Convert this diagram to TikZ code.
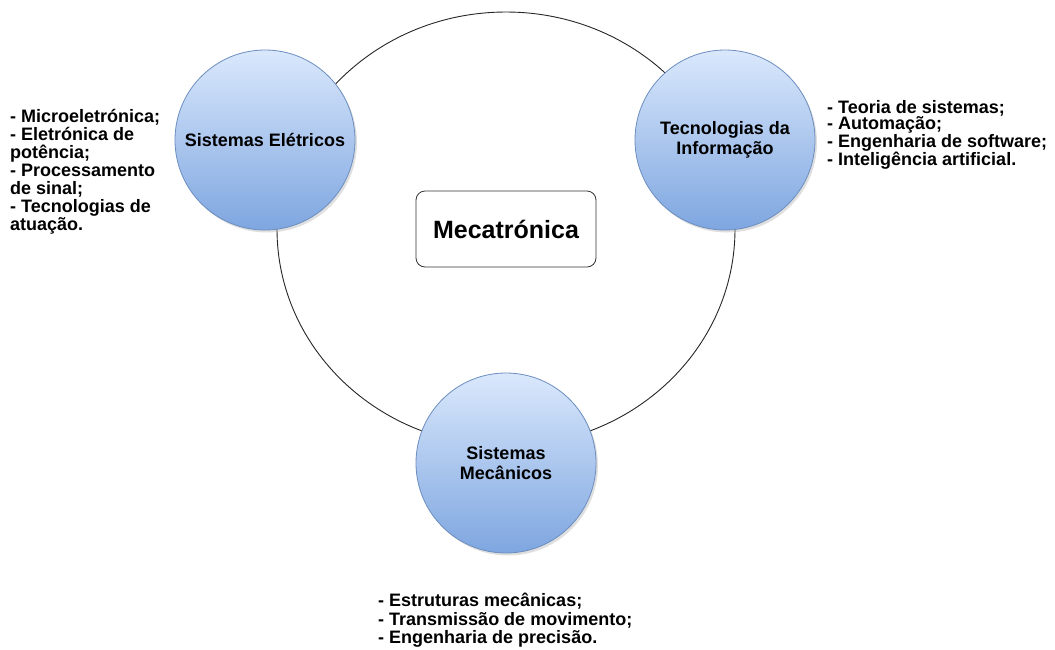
\documentclass[tikz,border=0pt]{standalone}
\usepackage{fontspec}
\setmainfont{Liberation Sans}
\usetikzlibrary{shapes.geometric,shadows}
\definecolor{blueTop}{HTML}{DAE8FC}
\definecolor{blueBottom}{HTML}{7EA6E0}
\definecolor{blueEdge}{HTML}{6C8EBF}
\begin{document}
\begin{tikzpicture}[x=1pt,y=-1pt,
  areacircle/.style={circle, minimum size=180pt, inner sep=0pt, draw=blueEdge,
    line width=0.8pt, top color=blueTop, bottom color=blueBottom,
    drop shadow={shadow xshift=2pt, shadow yshift=-2.5pt, opacity=0.25},
    align=center, font=\bfseries\fontsize{18}{20}\selectfont},
  topics/.style={align=left, inner sep=0pt, anchor=base west},
  ringline/.style={ellipse, draw=black!85, line width=0.9pt, inner sep=0pt},
  titlebox/.style={draw=black!80, line width=0.8pt, rounded corners=9pt,
    minimum width=180pt, minimum height=76pt,
    font=\bfseries\fontsize{25}{30}\selectfont}]
  \useasboundingbox (0,0) rectangle (1055,649);

  % the ring that links the three areas
  \node[ringline, minimum width=458pt, minimum height=434pt] (ring) at (506,229) {};

  % central title
  \node[titlebox] (core) at (506,229) {Mecatrónica};

  % the three areas
  \node[areacircle] (ele) at (265,140) {Sistemas Elétricos};
  \node[areacircle] (inf) at (725,140) {Tecnologias da\\Informação};
  \node[areacircle] (mec) at (506,463) {Sistemas\\Mecânicos};

  % topic lists (anchored at the baseline of their last line)
  \node[topics, font=\bfseries\fontsize{18}{18}\selectfont] (eleList) at (10,230.5)
    {- Microeletrónica;\\- Eletrónica de\\potência;\\- Processamento\\de sinal;\\- Tecnologias de\\atuação.};
  \node[topics, font=\bfseries\fontsize{18}{16.3}\selectfont] (infList) at (827,165.5)
    {- Teoria de sistemas;\\- Automação;\\- Engenharia de software;\\- Inteligência artificial.};
  \node[topics, font=\bfseries\fontsize{18}{18.5}\selectfont] (mecList) at (378,643.5)
    {- Estruturas mecânicas;\\- Transmissão de movimento;\\- Engenharia de precisão.};
\end{tikzpicture}
\end{document}
